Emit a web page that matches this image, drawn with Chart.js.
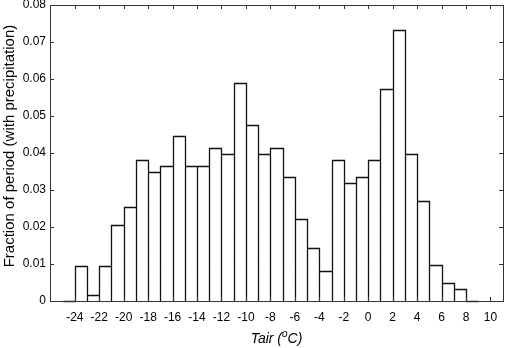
<!DOCTYPE html>
<html>
<head>
<meta charset="utf-8">
<script src="https://cdn.jsdelivr.net/npm/chart.js@4/dist/chart.umd.min.js"></script>
<style>
  html, body { margin: 0; padding: 0; background: #fff; }
  #wrap { width: 512px; height: 348px; }
</style>
</head>
<body>
<div id="wrap"><canvas id="c" width="512" height="348"></canvas></div>
<script>
// histogram of Tair, 1 degree bins (left edge of each bin)
var binStart = [-25, -24, -23, -22, -21, -20, -19, -18, -17, -16, -15, -14, -13, -12, -11, -10, -9,
                -8, -7, -6, -5, -4, -3, -2, -1, 0, 1, 2, 3, 4, 5, 6, 7, 8];
var fraction = [0, 0.0095, 0.0015, 0.0095, 0.0206, 0.0254, 0.0382, 0.035, 0.0366, 0.0446, 0.0366, 0.0366, 0.0414, 0.0398, 0.0589, 0.0477, 0.0398,
                0.0414, 0.0335, 0.0222, 0.0143, 0.008, 0.0382, 0.0319, 0.0335, 0.0382, 0.0573, 0.0732, 0.0398, 0.027, 0.0096, 0.0048, 0.0032, 0];
var xTicks = [-24, -22, -20, -18, -16, -14, -12, -10, -8, -6, -4, -2, 0, 2, 4, 6, 8, 10];
var yTicks = [0, 0.01, 0.02, 0.03, 0.04, 0.05, 0.06, 0.07, 0.08];

var xTitle = ['Tair (', 'o', 'C)'];
var yTitle = 'Fraction of period (with precipitation)';

var fontFamily = '"Liberation Sans", Arial, sans-serif';
Chart.defaults.font.family = fontFamily;
Chart.defaults.color = '#000';

// bar outlines, pixel-snapped so they stay sharp
var outlines = {
  id: 'outlines',
  afterDatasetsDraw: function (chart) {
    var ctx = chart.ctx;
    ctx.save();
    ctx.strokeStyle = '#111';
    ctx.lineWidth = 1.3;
    ctx.beginPath();
    chart.getDatasetMeta(0).data.forEach(function (bar) {
      var p = bar.getProps(['x', 'y', 'base', 'width'], true);
      var l = Math.round(p.x - p.width / 2) + 0.5, r = Math.round(p.x + p.width / 2) + 0.5;
      var t = Math.round(p.y) + 0.5, b = Math.round(p.base) + 0.5;
      ctx.moveTo(l, b); ctx.lineTo(l, t); ctx.lineTo(r, t); ctx.lineTo(r, b);
    });
    ctx.stroke();
    ctx.restore();
  }
};

// box, inward ticks on all four sides, axis titles
var frame = {
  id: 'frame',
  afterDraw: function (chart) {
    var ctx = chart.ctx, a = chart.chartArea;
    var x = chart.scales.x, y = chart.scales.y;
    var tl = 4;
    ctx.save();
    ctx.strokeStyle = '#333';
    ctx.lineWidth = 1;
    ctx.beginPath();
    x.ticks.forEach(function (t) {
      var px = Math.round(x.getPixelForValue(t.value)) + 0.5;
      ctx.moveTo(px, a.bottom); ctx.lineTo(px, a.bottom - tl);
      ctx.moveTo(px, a.top); ctx.lineTo(px, a.top + tl);
    });
    y.ticks.forEach(function (t) {
      var py = Math.round(y.getPixelForValue(t.value)) + 0.5;
      ctx.moveTo(a.left, py); ctx.lineTo(a.left + tl, py);
      ctx.moveTo(a.right, py); ctx.lineTo(a.right - tl, py);
    });
    ctx.stroke();
    ctx.strokeRect(Math.round(a.left) + 0.5, Math.round(a.top) + 0.5,
                   Math.round(a.right - a.left), Math.round(a.bottom - a.top));

    // y title
    ctx.fillStyle = '#000';
    ctx.font = '15px ' + fontFamily;
    ctx.textAlign = 'center';
    ctx.textBaseline = 'middle';
    ctx.translate(10, 146);
    ctx.rotate(-Math.PI / 2);
    ctx.fillText(yTitle, 0, 0);
    ctx.restore();

    // x title with superscript
    ctx.save();
    ctx.fillStyle = '#000';
    ctx.textBaseline = 'alphabetic';
    ctx.textAlign = 'left';
    var big = 'italic 14px ' + fontFamily, small = 'italic 10px ' + fontFamily;
    ctx.font = big; var w0 = ctx.measureText(xTitle[0]).width, w2 = ctx.measureText(xTitle[2]).width;
    ctx.font = small; var w1 = ctx.measureText(xTitle[1]).width;
    var cx = (a.left + a.right) / 2, base = 343;
    var sx = cx - (w0 + w1 + w2) / 2;
    ctx.font = big; ctx.fillText(xTitle[0], sx, base);
    ctx.font = small; ctx.fillText(xTitle[1], sx + w0, base - 6);
    ctx.font = big; ctx.fillText(xTitle[2], sx + w0 + w1, base);
    ctx.restore();
  }
};

new Chart(document.getElementById('c'), {
  type: 'bar',
  data: {
    datasets: [{
      data: binStart.map(function (s, i) { return { x: s + 0.5, y: fraction[i] }; }),
      backgroundColor: '#ffffff',
      borderWidth: 0,
      inflateAmount: 0,
      barPercentage: 1,
      categoryPercentage: 1
    }]
  },
  options: {
    responsive: false,
    animation: false,
    layout: { padding: { left: 0, right: 9, top: 5, bottom: 0 } },
    plugins: { legend: { display: false }, tooltip: { enabled: false } },
    scales: {
      x: {
        type: 'linear',
        min: -25, max: 10,
        afterBuildTicks: function (s) { s.ticks = xTicks.map(function (v) { return { value: v }; }); },
        afterFit: function (s) { s.height = 47; s.paddingLeft = 0; s.paddingRight = 0; },
        grid: { display: false, drawTicks: false },
        border: { display: false },
        ticks: { padding: 9, maxRotation: 0, autoSkip: false, font: { size: 12 } }
      },
      y: {
        min: 0, max: 0.08,
        afterBuildTicks: function (s) { s.ticks = yTicks.map(function (v) { return { value: v }; }); },
        afterFit: function (s) { s.width = 50; s.paddingTop = 0; s.paddingBottom = 0; },
        grid: { display: false, drawTicks: false },
        border: { display: false },
        ticks: {
          padding: 4, font: { size: 12 },
          callback: function (v) { return v === 0 ? '0' : v.toFixed(2); }
        }
      }
    }
  },
  plugins: [outlines, frame]
});
</script>
</body>
</html>
